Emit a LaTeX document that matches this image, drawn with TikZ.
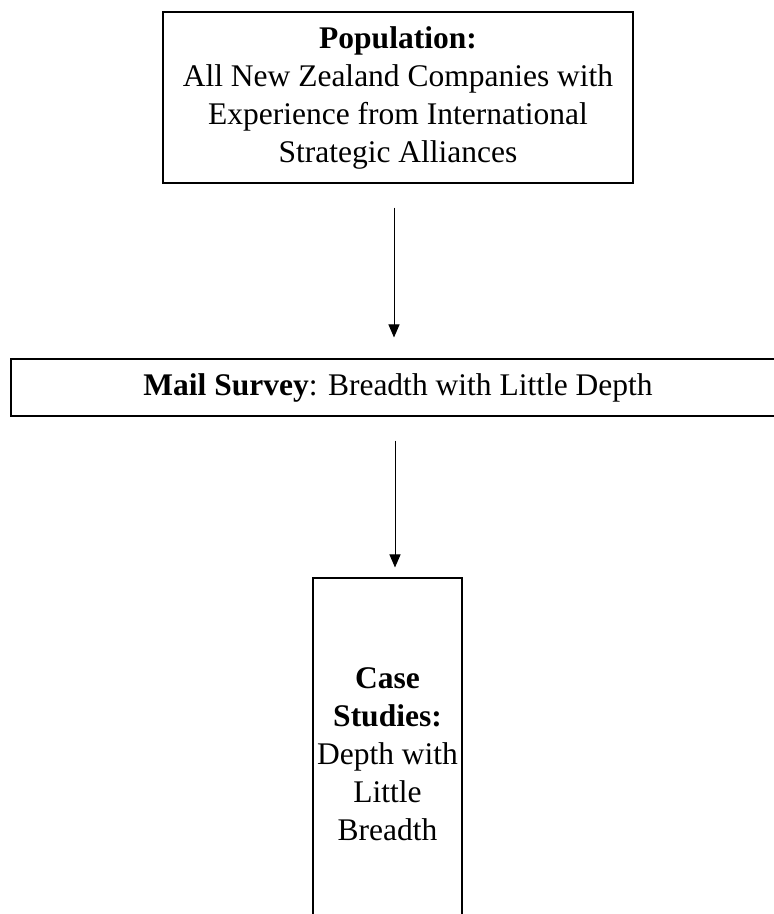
\documentclass[tikz,border=0pt]{standalone}
\usepackage{fontspec}
\setmainfont{Liberation Serif}
\usetikzlibrary{arrows.meta}
\begin{document}
\begin{tikzpicture}[x=1pt,y=-1pt,
  boxstyle/.style={draw=black,line width=1.1pt,inner sep=0pt,align=center,
    font=\fontsize{31.5}{38}\selectfont},
  flowarrow/.style={draw=black,line width=1pt,-{Triangle[width=11pt,length=13pt]}}]
\useasboundingbox[fill=white] (0,0) rectangle (774,914);
\node[boxstyle,minimum width=470,minimum height=171] (pop) at (398,97.5)
  {\textbf{Population:}\\All New Zealand Companies with\\Experience from International\\Strategic Alliances};
\node[boxstyle,minimum width=774,minimum height=57] (mail) at (398,387.5)
  {\raisebox{5pt}{\textbf{Mail Survey}: Breadth with Little Depth}};
\node[boxstyle,minimum width=149,minimum height=352] (case) at (387.5,754)
  {\textbf{Case}\\\textbf{Studies:}\\Depth with\\Little\\Breadth};
\draw[flowarrow] ([xshift=-4,yshift=-24]pop.south) -- ([xshift=-4,yshift=21]mail.north);
\draw[flowarrow] ([xshift=-3,yshift=-24]mail.south) -- ([xshift=7.5,yshift=10]case.north);
\end{tikzpicture}
\end{document}
